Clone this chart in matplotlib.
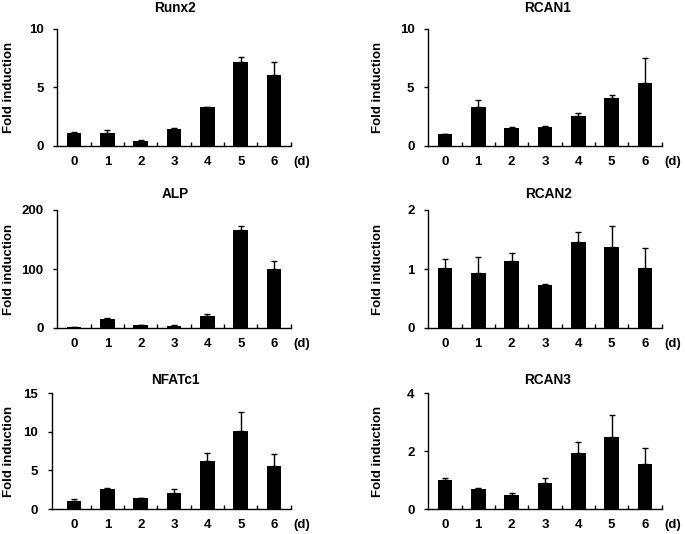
import matplotlib
matplotlib.use("Agg")
import matplotlib.pyplot as plt
import numpy as np

plt.rcParams['font.family'] = ['Liberation Sans', 'DejaVu Sans']
plt.rcParams['font.weight'] = 'bold'

days = [0, 1, 2, 3, 4, 5, 6]
day_labels = ["0", "1", "2", "3", "4", "5", "6"]

runx2 = [1.05, 1.1, 0.43, 1.4, 3.26, 7.14, 6.0]
runx2_err = [0.08, 0.2, 0.05, 0.12, 0.05, 0.43, 1.14]

rcan1 = [1.0, 3.31, 1.49, 1.6, 2.55, 4.06, 5.37]
rcan1_err = [0.03, 0.63, 0.08, 0.06, 0.22, 0.23, 2.09]

alp = [1.0, 14.6, 4.5, 4.0, 20.8, 165.6, 99.7]
alp_err = [0.5, 1.7, 0.6, 0.5, 2.9, 6.8, 14.1]

rcan2 = [1.01, 0.935, 1.14, 0.725, 1.46, 1.38, 1.01]
rcan2_err = [0.16, 0.275, 0.13, 0.025, 0.16, 0.35, 0.34]

nfatc1 = [1.07, 2.54, 1.38, 2.1, 6.15, 10.14, 5.59]
nfatc1_err = [0.26, 0.12, 0.08, 0.44, 1.11, 2.41, 1.54]

rcan3 = [1.0, 0.70, 0.47, 0.91, 1.92, 2.49, 1.55]
rcan3_err = [0.06, 0.02, 0.07, 0.15, 0.40, 0.74, 0.54]

titles = ["Runx2", "RCAN1", "ALP", "RCAN2", "NFATc1", "RCAN3"]
series = [runx2, rcan1, alp, rcan2, nfatc1, rcan3]
errors = [runx2_err, rcan1_err, alp_err, rcan2_err, nfatc1_err, rcan3_err]
ymax = [10, 10, 200, 2, 15, 4]
yticks = [[0, 5, 10], [0, 5, 10], [0, 100, 200], [0, 1, 2], [0, 5, 10, 15], [0, 2, 4]]

W, H = 685, 534
fig = plt.figure(figsize=(W / 100, H / 100), dpi=100)

FS = 9.5
col_left = [57.5, 428.3]
col_right = [290.8, 661.6]
rows = [(28.5, 145.7), (210, 328), (393, 509)]
title_base = [12.5, 198.5, 383.5]
title_x = [175, 548]
ylabel_x = [3, 372]

for i in range(6):
    r, c = divmod(i, 2)
    top, bot = rows[r]
    left = col_left[c]
    right = col_right[c]
    xl = -0.5
    if i == 4:
        left_ext = 52.0
        xl = -0.5 - (left - left_ext) / ((right - left) / 7.0)
        left = left_ext
    ax = fig.add_axes([left / W, 1 - bot / H, (right - left) / W, (bot - top) / H])
    ax.bar(days, series[i], width=0.44, color='black', zorder=2)
    ax.errorbar(days, series[i], yerr=[np.zeros(7), errors[i]], fmt='none',
                ecolor='black', elinewidth=1.0, capsize=2.5, capthick=1.0, zorder=1)
    ax.set_xlim(xl, 6.5)
    ax.set_ylim(0, ymax[i])
    ax.spines['top'].set_visible(False)
    ax.spines['right'].set_visible(False)
    ax.spines['left'].set_linewidth(1.0)
    ax.spines['bottom'].set_linewidth(1.0)
    ax.set_yticks(yticks[i])
    ax.set_yticklabels([str(t) for t in yticks[i]], fontsize=FS, fontweight='bold')
    ax.tick_params(axis='y', direction='out', length=3, width=1, pad=7)
    ax.set_xticks(days)
    ax.set_xticklabels(day_labels, fontsize=FS, fontweight='bold')
    ax.tick_params(axis='x', which='major', length=0, pad=7.5)
    ax.set_xticks([d + 0.5 for d in days], minor=True)
    ax.tick_params(axis='x', which='minor', direction='in', length=3, width=1)
    ax.annotate("(d)", xy=(6.57, 0), xycoords=('data', 'axes fraction'),
                xytext=(0, -7.5), textcoords='offset points',
                fontsize=FS, fontweight='bold', ha='left', va='top',
                annotation_clip=False)
    fig.text(title_x[c] / W, 1 - title_base[r] / H, titles[i], fontsize=9.8,
             fontweight='bold', ha='center', va='baseline')
    fig.text(ylabel_x[c] / W, 1 - ((top + bot) / 2) / H, "Fold induction", rotation=90,
             fontsize=FS, fontweight='bold', ha='left', va='center')

fig.savefig("out.png", dpi=100)
